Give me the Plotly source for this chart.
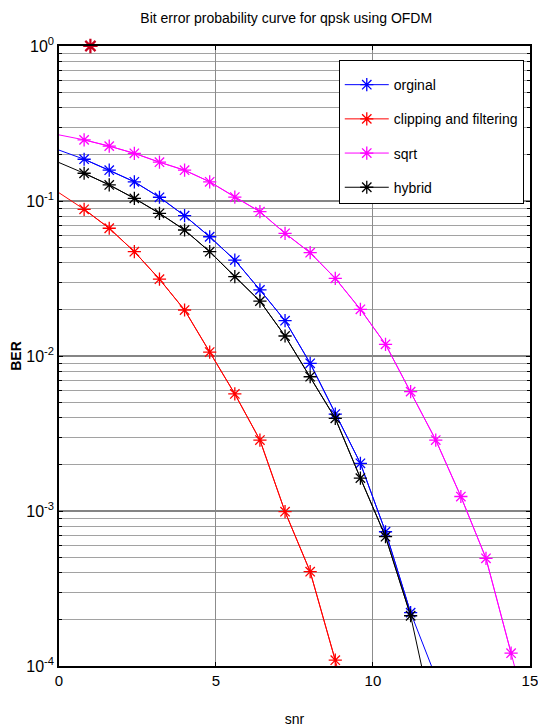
import plotly.graph_objects as go

# ---------------- data ----------------
snr_line_orig = [0, 0.8, 1.6, 2.4, 3.2, 4.0, 4.8, 5.6, 6.4, 7.2, 8.0, 8.8, 9.6, 10.4, 11.2, 12.0]
ber_orig = [0.213, 0.186, 0.158, 0.133, 0.1057, 0.0804, 0.0588, 0.0416, 0.0267, 0.0169,
            0.00897, 0.00422, 0.00203, 0.000735, 0.000221, 0.000085]

snr_line_hyb = [0, 0.8, 1.6, 2.4, 3.2, 4.0, 4.8, 5.6, 6.4, 7.2, 8.0, 8.8, 9.6, 10.4, 11.2, 12.0]
ber_hyb = [0.177, 0.151, 0.127, 0.104, 0.0833, 0.065, 0.0471, 0.0325, 0.0226, 0.01346,
           0.00735, 0.00396, 0.00163, 0.000683, 0.000211, 0.000038]

snr_line_clip = [0, 0.8, 1.6, 2.4, 3.2, 4.0, 4.8, 5.6, 6.4, 7.2, 8.0, 8.8, 9.6]
ber_clip = [0.113, 0.0884, 0.0667, 0.0471, 0.0313, 0.0198, 0.0106, 0.00569, 0.00287,
            0.00099, 0.000406, 0.000109, 0.000029]

snr_line_sqrt = [0, 0.8, 1.6, 2.4, 3.2, 4.0, 4.8, 5.6, 6.4, 7.2, 8.0, 8.8, 9.6, 10.4,
                 11.2, 12.0, 12.8, 13.6, 14.4, 15.2]
ber_sqrt = [0.267, 0.248, 0.226, 0.203, 0.178, 0.158, 0.133, 0.106, 0.0853, 0.0619,
            0.0464, 0.0317, 0.0200, 0.0119, 0.00589, 0.00287, 0.00124, 0.000495,
            0.000121, 0.000029]

stray_x = [1.0]
stray_y = [1.0]

series_names = ["orginal", "clipping and filtering", "sqrt", "hybrid"]
series_colors = ["#0000ff", "#ff0000", "#ff00ff", "#000000"]

x_ticks = [0, 5, 10, 15]
y_tickvals = [1e-4, 1e-3, 1e-2, 1e-1, 1]
y_ticktext = ["10<sup>-4</sup>", "10<sup>-3</sup>", "10<sup>-2</sup>",
              "10<sup>-1</sup>", "10<sup>0</sup>"]

title_text = "Bit error probability curve for qpsk using OFDM"
x_title = "snr"
y_title = "BER"

FONT = "Liberation Sans, Arial, sans-serif"

fig = go.Figure()

datasets = [
    (snr_line_orig, ber_orig),
    (snr_line_clip, ber_clip),
    (snr_line_sqrt, ber_sqrt),
    (snr_line_hyb, ber_hyb),
]

for i, ((xs, ys), name, col) in enumerate(zip(datasets, series_names, series_colors)):
    grp = "g%d" % i
    fig.add_trace(go.Scatter(x=xs, y=ys, mode="lines", line=dict(color=col, width=1),
                             showlegend=False, legendgroup=grp, hoverinfo="skip"))
    fig.add_trace(go.Scatter(x=xs[1:-1], y=ys[1:-1], mode="lines+markers", name=name,
                             legendgroup=grp,
                             line=dict(color=col, width=1),
                             marker=dict(symbol="asterisk-open", size=11, color=col,
                                         line=dict(color=col, width=1.3)),
                             cliponaxis=False))

fig.add_trace(go.Scatter(x=stray_x, y=stray_y, mode="markers", showlegend=False,
                         marker=dict(symbol="asterisk-open", size=12, color="#c8001e",
                                     line=dict(color="#c8001e", width=2.2)),
                         cliponaxis=False))

fig.update_layout(
    width=538, height=727,
    margin=dict(l=59, r=8, t=46, b=61, autoexpand=False),
    paper_bgcolor="white", plot_bgcolor="white",
    font=dict(family=FONT, color="black", size=14),
    title=dict(text=title_text, x=0.532, xanchor="center", y=0.975, yanchor="middle",
               font=dict(family=FONT, size=14, color="black")),
    legend=dict(x=0.594, y=0.977, xanchor="left", yanchor="top",
                bordercolor="black", borderwidth=1, bgcolor="white",
                font=dict(family=FONT, size=14, color="black"),
                title=dict(text=" ", font=dict(size=6)),
                tracegroupgap=13, itemwidth=44),
    showlegend=True,
)

fig.update_xaxes(
    range=[0, 15.002], tickvals=x_ticks, ticks="inside", ticklen=4, tickcolor="black",
    showline=True, linecolor="black", linewidth=1.5, mirror="allticks",
    showgrid=True, gridcolor="#8c8c8c", gridwidth=1, zeroline=False,
    ticklabeloverflow="allow",
    tickfont=dict(family=FONT, size=15),
    title=dict(text=x_title, font=dict(family=FONT, size=14), standoff=27),
)

fig.update_yaxes(
    type="log", range=[-4, 0], tickvals=y_tickvals, ticktext=y_ticktext,
    ticks="inside", ticklen=4, tickcolor="black",
    showline=True, linecolor="black", linewidth=1.5, mirror="allticks",
    showgrid=True, gridcolor="#858585", gridwidth=1.6, zeroline=False,
    tickfont=dict(family=FONT, size=16),
    minor=dict(dtick="D1", showgrid=True, gridcolor="#a2a2a2", gridwidth=1.4,
               ticks="inside", ticklen=3, tickcolor="black"),
    title=dict(text="<b>" + y_title + "</b>", font=dict(family=FONT, size=14), standoff=1),
)

fig.write_html("out.html")
